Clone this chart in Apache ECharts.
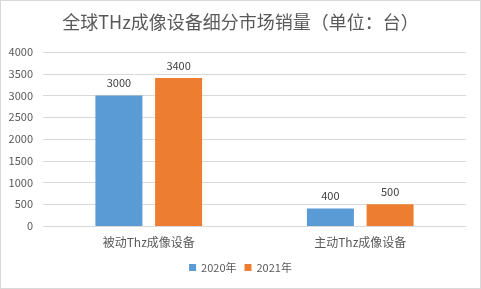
<!DOCTYPE html>
<html><head><meta charset="utf-8">
<script src="https://cdn.jsdelivr.net/npm/echarts@6/dist/echarts.min.js"></script>
<style>html,body{margin:0;padding:0;background:#fff}#c{width:481px;height:289px;box-sizing:border-box;border:1px solid #d9d9d9}</style>
</head><body><div id="c"></div>
<script>
const titleText = '全球THz成像设备细分市场销量（单位：台）';
const categories = ['被动Thz成像设备', '主动Thz成像设备'];
const seriesNames = ['2020年', '2021年'];
const values2020 = [3000, 400];
const values2021 = [3400, 500];
const yTicks = [0, 500, 1000, 1500, 2000, 2500, 3000, 3500, 4000];

const chart = echarts.init(document.getElementById('c'), null, {renderer: 'canvas'});
const font = '"Microsoft YaHei", "Noto Sans CJK SC", sans-serif';
const labelStyle = {show: true, position: 'top', color: '#404040', fontSize: 11, fontFamily: font, distance: 7};
chart.setOption({
  animation: false,
  title: {text: titleText, left: 'center', top: 7, textStyle: {fontSize: 18, fontWeight: 'normal', color: '#595959', fontFamily: font}},
  grid: {left: 42, right: 14, top: 51, bottom: 62, containLabel: false},
  legend: {bottom: 10, left: 'center', itemWidth: 7, itemHeight: 7, itemGap: 8, icon: 'rect',
    textStyle: {color: '#595959', fontSize: 11, fontFamily: font}, data: seriesNames},
  xAxis: {type: 'category', data: categories,
    axisLine: {lineStyle: {color: '#d9d9d9'}}, axisTick: {show: false},
    axisLabel: {color: '#595959', fontSize: 12, fontFamily: font, margin: 10}},
  yAxis: {type: 'value', min: yTicks[0], max: yTicks[yTicks.length-1], interval: 500,
    axisLine: {show: false}, axisTick: {show: false},
    splitLine: {lineStyle: {color: '#d9d9d9'}},
    axisLabel: {color: '#595959', fontSize: 11, fontFamily: font, margin: 10, formatter: v => String(v)}},
  series: [
    {name: seriesNames[0], type: 'bar', data: values2020, barWidth: 47, barGap: '27%', itemStyle: {color: '#5b9bd5'}, label: labelStyle},
    {name: seriesNames[1], type: 'bar', data: values2021, barWidth: 47, itemStyle: {color: '#ed7d31'}, label: labelStyle}
  ]
});
</script></body></html>
